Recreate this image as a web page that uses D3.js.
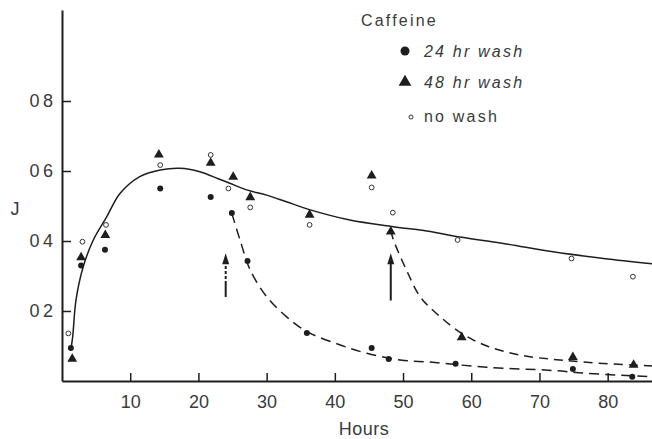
<!DOCTYPE html>
<html>
<head>
<meta charset="utf-8">
<script src="https://cdn.jsdelivr.net/npm/d3@7"></script>
<style>
  body { margin: 0; background: #fff; }
  svg { display: block; font-family: "Liberation Sans", Arial, sans-serif; }
</style>
</head>
<body>
<div id="chart"></div>
<script>
// hours / J values
const wash24Hours = [1.3, 2.8, 6.3, 14.4, 21.8, 24.9, 27.2, 35.9, 45.4, 47.9, 57.7, 74.9, 83.6];
const wash24J     = [0.094, 0.33, 0.375, 0.55, 0.526, 0.48, 0.343, 0.137, 0.094, 0.063, 0.049, 0.034, 0.012];

const wash48Hours = [1.5, 2.8, 6.35, 14.2, 21.8, 25.1, 27.6, 36.3, 45.4, 48.2, 58.6, 74.9, 83.8];
const wash48J     = [0.06, 0.35, 0.414, 0.644, 0.62, 0.58, 0.522, 0.472, 0.584, 0.424, 0.122, 0.065, 0.043];

const noWashHours = [0.93, 3.0, 6.45, 14.4, 21.8, 24.4, 27.6, 36.3, 45.4, 48.5, 58.0, 74.7, 83.7];
const noWashJ     = [0.136, 0.398, 0.446, 0.617, 0.646, 0.55, 0.496, 0.446, 0.553, 0.481, 0.403, 0.35, 0.298];

// hand-drawn curves, traced point by point
const noWashCurveHours = [1.3, 1.57, 2.05, 3.12, 4.59, 6.55, 8.5, 11.4, 14.4, 17.3, 20.2, 22.9, 24.6, 27.1, 30, 32.9, 36.4, 42.2, 48.6, 54, 57.4, 64.7, 72, 79.4, 86.5];
const noWashCurveJ     = [0.09, 0.127, 0.231, 0.327, 0.403, 0.469, 0.536, 0.584, 0.603, 0.608, 0.598, 0.578, 0.565, 0.546, 0.531, 0.512, 0.489, 0.46, 0.441, 0.427, 0.414, 0.393, 0.369, 0.35, 0.335];

const wash24CurveHours = [24.9, 26.1, 27.6, 30, 32.9, 35.9, 40.8, 44.7, 49.6, 54, 62.3, 72, 76.9, 86.5];
const wash24CurveJ     = [0.479, 0.403, 0.317, 0.241, 0.184, 0.141, 0.103, 0.079, 0.06, 0.054, 0.039, 0.03, 0.022, 0.012];

const wash48CurveHours = [48.2, 48.6, 50.5, 52.5, 54.9, 58.6, 62.3, 67.2, 73, 79.4, 86.5];
const wash48CurveJ     = [0.43, 0.403, 0.317, 0.241, 0.193, 0.136, 0.1, 0.074, 0.06, 0.05, 0.043];

// wash arrows: hour, bottom J, top J
const arrowHours = [24, 48.2];
const arrowFromJ = [0.24, 0.23];
const arrowToJ   = [0.365, 0.365];

const xTicks = [10, 20, 30, 40, 50, 60, 70, 80];
const yTicks = [0.2, 0.4, 0.6, 0.8];

const legendLabels = ["24 hr wash", "48 hr wash", "no wash"];

const width = 652, height = 439;
const ink = "#1e1e1e";
const textInk = "#3a3a3a";

const svg = d3.select("#chart").append("svg")
    .attr("width", width)
    .attr("height", height);

const x = d3.scaleLinear().domain([0, 86.5]).range([62, 652]);
const y = d3.scaleLinear().domain([0, 1.06]).range([381, 10]);

// axes
const xAxis = svg.append("g")
    .attr("transform", `translate(0,${y(0)})`)
    .call(d3.axisBottom(x).tickValues(xTicks).tickSizeInner(-8).tickSizeOuter(0).tickPadding(14));
const yAxis = svg.append("g")
    .attr("transform", `translate(${x(0)},0)`)
    .call(d3.axisLeft(y).tickValues(yTicks).tickSizeInner(-9).tickSizeOuter(0).tickPadding(9)
        .tickFormat(d => d3.format(".1f")(d).replace(".", "\u2009")));

[xAxis, yAxis].forEach(a => {
    a.select(".domain").attr("stroke", ink).attr("stroke-width", 2);
    a.selectAll(".tick line").attr("stroke", ink).attr("stroke-width", 1.5);
    a.selectAll(".tick text")
        .attr("fill", textInk)
        .attr("font-size", 18)
        .attr("font-family", "Liberation Sans, Arial, sans-serif");
});

svg.append("text")
    .attr("x", 364).attr("y", 435)
    .attr("text-anchor", "middle")
    .attr("font-size", 18)
    .attr("letter-spacing", 0.5)
    .attr("fill", textInk)
    .text("Hours");

svg.append("text")
    .attr("x", 15).attr("y", 215)
    .attr("text-anchor", "middle")
    .attr("font-size", 18)
    .attr("fill", textInk)
    .text("J");

// curves
const line = d3.line()
    .x(d => x(d[0]))
    .y(d => y(d[1]))
    .curve(d3.curveCatmullRom.alpha(0.5));

const zip = (a, b) => a.map((v, i) => [v, b[i]]);

svg.append("path")
    .attr("d", line(zip(noWashCurveHours, noWashCurveJ)))
    .attr("fill", "none").attr("stroke", ink).attr("stroke-width", 1.5);

svg.append("path")
    .attr("d", line(zip(wash24CurveHours, wash24CurveJ)))
    .attr("fill", "none").attr("stroke", ink).attr("stroke-width", 1.5)
    .attr("stroke-dasharray", "10,6");

svg.append("path")
    .attr("d", line(zip(wash48CurveHours, wash48CurveJ)))
    .attr("fill", "none").attr("stroke", ink).attr("stroke-width", 1.5)
    .attr("stroke-dasharray", "9,6");

// arrows
arrowHours.forEach((h, i) => {
    const ax = x(h), y0 = y(arrowFromJ[i]), y1 = y(arrowToJ[i]);
    svg.append("line")
        .attr("x1", ax).attr("x2", ax)
        .attr("y1", y0).attr("y2", y1 + 8)
        .attr("stroke", ink).attr("stroke-width", 2)
        .attr("stroke-dasharray", i === 0 ? "16,2,3,2,3,2,3,2" : null);
    svg.append("path")
        .attr("d", `M${ax},${y1} L${ax - 3.5},${y1 + 11} L${ax + 3.5},${y1 + 11} Z`)
        .attr("fill", ink);
});

// markers
const tri = d3.symbol().type(d3.symbolTriangle);

svg.append("g").selectAll("circle")
    .data(zip(noWashHours, noWashJ))
    .join("circle")
    .attr("cx", d => x(d[0])).attr("cy", d => y(d[1]))
    .attr("r", 2.4)
    .attr("fill", "#fff").attr("stroke", "#333").attr("stroke-width", 1);

svg.append("g").selectAll("path")
    .data(zip(wash48Hours, wash48J))
    .join("path")
    .attr("transform", d => `translate(${x(d[0])},${y(d[1]) - 1})`)
    .attr("d", tri.size(42)())
    .attr("fill", ink);

svg.append("g").selectAll("circle")
    .data(zip(wash24Hours, wash24J))
    .join("circle")
    .attr("cx", d => x(d[0])).attr("cy", d => y(d[1]))
    .attr("r", 3)
    .attr("fill", ink);

// legend
const legend = svg.append("g");
legend.append("text")
    .attr("x", 361).attr("y", 26)
    .attr("font-size", 16).attr("letter-spacing", 2.2).attr("fill", textInk)
    .text("Caffeine");

const rowY = [51, 82, 116];
legend.append("circle").attr("cx", 405).attr("cy", rowY[0]).attr("r", 4.5).attr("fill", ink);
legend.append("path")
    .attr("transform", `translate(405,${rowY[1]})`)
    .attr("d", tri.size(70)())
    .attr("fill", ink);
legend.append("circle").attr("cx", 411).attr("cy", rowY[2] + 1).attr("r", 2)
    .attr("fill", "#fff").attr("stroke", "#333").attr("stroke-width", 1);

legendLabels.forEach((t, i) => {
    legend.append("text")
        .attr("x", 424).attr("y", rowY[i] + 6)
        .attr("font-size", 16)
        .attr("letter-spacing", 2.2)
        .attr("font-style", i < 2 ? "italic" : "normal")
        .attr("fill", textInk)
        .text(t);
});
</script>
</body>
</html>
